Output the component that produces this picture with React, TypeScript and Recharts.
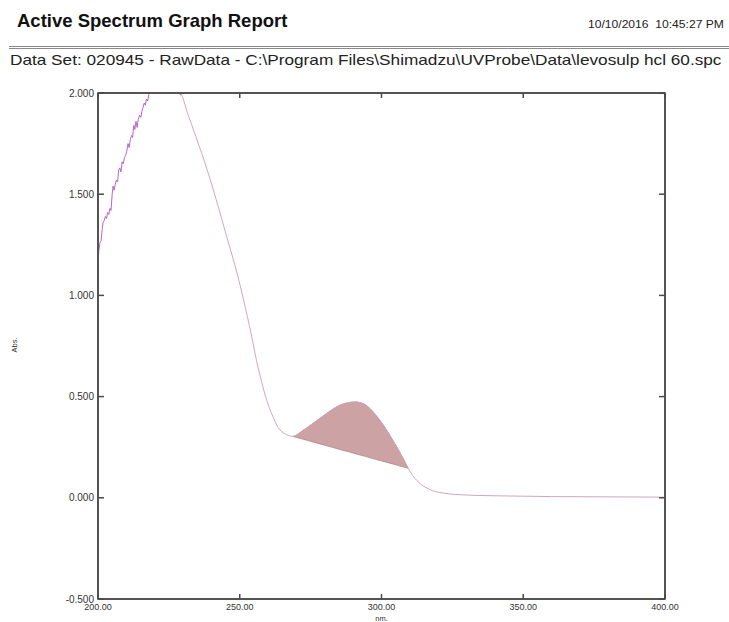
import React from 'react';
import { ComposedChart, Line, Area, XAxis, YAxis, ReferenceArea } from 'recharts';

// Noisy rising part of the spectrum (saturates above 2.000 Abs)
const noisyNm = [200.0, 200.3, 200.7, 201.1, 201.5, 201.8, 202.2, 202.6, 203.0, 203.4, 203.8, 204.2, 204.6, 205.0, 205.3, 205.7, 206.1, 206.5, 206.9, 207.3, 207.7, 208.1, 208.5, 208.9, 209.3, 209.7, 210.1, 210.6, 211.0, 211.4, 211.8, 212.2, 212.6, 213.0, 213.4, 213.8, 214.2, 214.7, 215.1, 215.5, 215.9, 216.3, 216.7, 217.1, 217.5, 217.9, 218.3, 219.0, 221.0, 224.0, 227.0, 228.6, 229.0, 229.4];
const noisyAbs = [1.16, 1.22, 1.26, 1.27, 1.33, 1.36, 1.37, 1.39, 1.38, 1.41, 1.40, 1.43, 1.42, 1.50, 1.54, 1.52, 1.55, 1.57, 1.56, 1.62, 1.63, 1.61, 1.66, 1.65, 1.68, 1.69, 1.71, 1.75, 1.73, 1.77, 1.79, 1.78, 1.84, 1.82, 1.86, 1.83, 1.87, 1.89, 1.88, 1.91, 1.93, 1.95, 1.94, 1.97, 1.96, 1.99, 2.02, 2.06, 2.12, 2.15, 2.10, 2.03, 1.99, 1.995];

// Smooth part of the spectrum
const mainNm = [229.4, 230.2, 231.2, 233.0, 234.7, 236.5, 238.3, 240.5, 242.9, 245.2, 247.6, 249.5, 251.2, 252.7, 254.1, 255.3, 256.5, 257.7, 258.8, 260.3, 261.8, 263.0, 264.1, 265.3, 266.5, 267.7, 268.8, 270.4, 272.0, 274.0, 276.0, 278.0, 280.0, 282.0, 284.0, 286.0, 288.0, 290.0, 291.0, 292.5, 294.0, 296.0, 298.0, 300.0, 302.0, 304.0, 306.0, 307.8, 309.4, 311.0, 312.5, 314.0, 315.5, 317.0, 319.0, 321.0, 324.0, 328.0, 333.0, 340.0, 350.0, 360.0, 375.0, 390.0, 400.0];
const mainAbs = [1.995, 1.965, 1.917, 1.845, 1.778, 1.705, 1.629, 1.53, 1.415, 1.30, 1.184, 1.085, 0.987, 0.895, 0.805, 0.72, 0.641, 0.575, 0.515, 0.45, 0.398, 0.36, 0.337, 0.322, 0.312, 0.306, 0.303, 0.313, 0.330, 0.349, 0.369, 0.390, 0.410, 0.430, 0.448, 0.461, 0.469, 0.473, 0.473, 0.470, 0.462, 0.44, 0.408, 0.372, 0.330, 0.284, 0.236, 0.19, 0.146, 0.11, 0.085, 0.066, 0.052, 0.041, 0.031, 0.025, 0.019, 0.015, 0.012, 0.010, 0.008, 0.006, 0.005, 0.004, 0.003];

// Peak area (shaded between curve and peak baseline)
const humpNm = [268.8, 270.4, 272.0, 274.0, 276.0, 278.0, 280.0, 282.0, 284.0, 286.0, 288.0, 290.0, 291.0, 292.5, 294.0, 296.0, 298.0, 300.0, 302.0, 304.0, 306.0, 307.8, 309.4];
const humpTop = [0.303, 0.313, 0.330, 0.349, 0.369, 0.390, 0.410, 0.430, 0.448, 0.461, 0.469, 0.473, 0.473, 0.470, 0.462, 0.44, 0.408, 0.372, 0.330, 0.284, 0.236, 0.19, 0.146];
const humpBase = [0.303, 0.297, 0.291, 0.283, 0.275, 0.267, 0.260, 0.252, 0.244, 0.236, 0.229, 0.221, 0.217, 0.211, 0.206, 0.198, 0.190, 0.182, 0.175, 0.167, 0.159, 0.152, 0.146];

const xTicks = [200, 250, 300, 350, 400];
const yTicks = [-0.5, 0, 0.5, 1.0, 1.5, 2.0];

const noisyData = noisyNm.map((nm, i) => ({ nm, abs: noisyAbs[i] }));
const mainData = mainNm.map((nm, i) => ({ nm, abs: mainAbs[i] }));
const humpData = humpNm.map((nm, i) => ({ nm, range: [humpBase[i], humpTop[i]] }));

const FONT = '"Liberation Sans", Arial, Helvetica, sans-serif';
const AXIS = '#4a4a4a';

export default function App() {
  return (
    <div style={{ position: 'absolute', left: 0, top: 0, width: 729, height: 622, background: '#fff', fontFamily: FONT, overflow: 'hidden' }}>
      <div style={{ position: 'absolute', left: 17, top: 12, fontSize: 18.5, fontWeight: 'bold', lineHeight: 1, color: '#111', whiteSpace: 'nowrap' }}>
        Active Spectrum Graph Report
      </div>
      <div style={{ position: 'absolute', left: 588, top: 19, fontSize: 11, lineHeight: 1, color: '#222', whiteSpace: 'pre', transform: 'scaleX(1.1)', transformOrigin: 'left top' }}>
        {'10/10/2016  10:45:27 PM'}
      </div>
      <div style={{ position: 'absolute', left: 9, top: 46, width: 720, height: 0, borderTop: '3px double #8a8a8a' }} />
      <div style={{ position: 'absolute', left: 10, top: 52, fontSize: 15, lineHeight: 1, color: '#222', whiteSpace: 'nowrap', transform: 'scaleX(1.147)', transformOrigin: 'left top' }}>
        {'Data Set: 020945 - RawData - C:\\Program Files\\Shimadzu\\UVProbe\\Data\\levosulp hcl 60.spc'}
      </div>
      <div style={{ position: 'absolute', left: 15, top: 345, fontSize: 7.5, lineHeight: 1, color: '#333', transform: 'translate(-50%, -50%) rotate(-90deg)', whiteSpace: 'nowrap' }}>
        Abs.
      </div>
      <div style={{ position: 'absolute', left: 0, top: 0 }}>
        <ComposedChart width={729} height={622} margin={{ top: 92, right: 63, bottom: 0, left: 0 }}>
          <XAxis
            dataKey="nm"
            type="number"
            domain={[200, 400]}
            ticks={xTicks}
            allowDataOverflow
            tickFormatter={(v: number) => v.toFixed(2)}
            height={23}
            stroke={AXIS}
            strokeWidth={1.5}
            tickSize={-5}
            tickMargin={10}
            tick={{ fontSize: 9, fill: '#333', fontFamily: FONT }}
            label={{ value: 'nm.', position: 'insideBottom', offset: 1, fontSize: 7.5, fill: '#333', fontFamily: FONT }}
          />
          <XAxis
            xAxisId="top"
            dataKey="nm"
            orientation="top"
            type="number"
            domain={[200, 400]}
            ticks={xTicks}
            allowDataOverflow
            height={1}
            stroke={AXIS}
            strokeWidth={1.5}
            tickSize={-5}
            tickFormatter={() => ''}
            tick={{ fontSize: 1 }}
          />
          <YAxis
            type="number"
            domain={[-0.5, 2]}
            ticks={yTicks}
            allowDataOverflow
            tickFormatter={(v: number) => v.toFixed(3)}
            width={98}
            stroke={AXIS}
            strokeWidth={1.5}
            tickSize={-6}
            tickMargin={10}
            tick={{ fontSize: 10, fill: '#333', fontFamily: FONT }}
          />
          <YAxis
            yAxisId="right"
            orientation="right"
            type="number"
            domain={[-0.5, 2]}
            ticks={yTicks}
            allowDataOverflow
            width={1}
            stroke={AXIS}
            strokeWidth={1.5}
            tickSize={-6}
            tickFormatter={() => ''}
            tick={{ fontSize: 1 }}
          />
          <ReferenceArea
            x1={200}
            x2={400}
            y1={-0.5}
            y2={2}
            fill="none"
            fillOpacity={0}
            stroke={AXIS}
            strokeWidth={1.5}
            strokeOpacity={1}
            ifOverflow="extendDomain"
          />
          <Area
            data={humpData}
            dataKey="range"
            type="monotone"
            fill="#cca2a4"
            fillOpacity={1}
            stroke="#ad8589"
            strokeWidth={0.8}
            isAnimationActive={false}
            dot={false}
            activeDot={false}
          />
          <Line
            data={noisyData}
            dataKey="abs"
            type="linear"
            stroke="#b767c6"
            strokeWidth={1}
            dot={false}
            activeDot={false}
            isAnimationActive={false}
          />
          <Line
            data={mainData}
            dataKey="abs"
            type="monotone"
            stroke="#d2a6c0"
            strokeWidth={1}
            dot={false}
            activeDot={false}
            isAnimationActive={false}
          />
          <Line
            data={mainData}
            xAxisId="top"
            yAxisId="right"
            dataKey="abs"
            type="monotone"
            stroke="none"
            strokeOpacity={0}
            dot={false}
            activeDot={false}
            legendType="none"
            isAnimationActive={false}
          />
        </ComposedChart>
      </div>
    </div>
  );
}
